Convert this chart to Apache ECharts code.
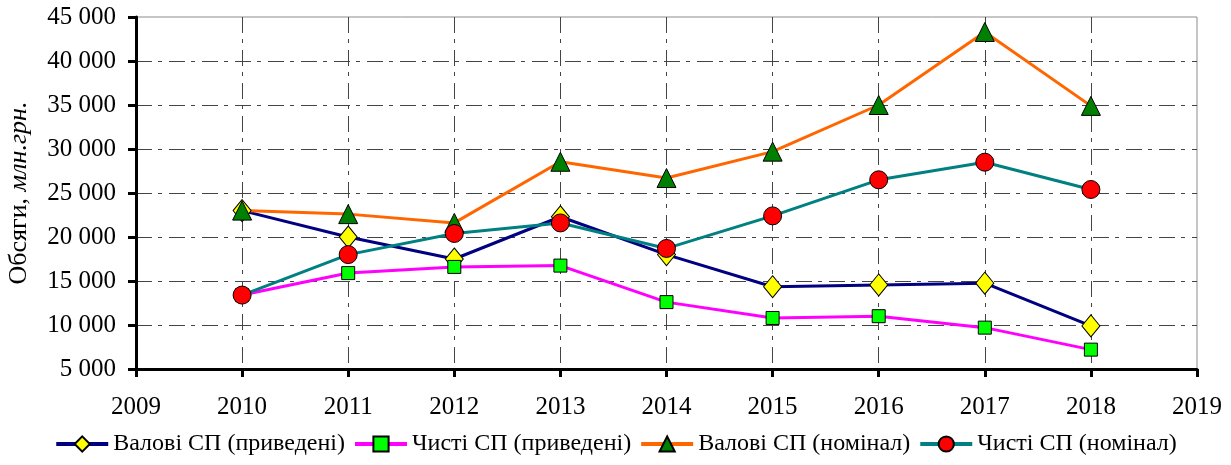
<!DOCTYPE html>
<html>
<head>
<meta charset="utf-8">
<script src="https://cdn.jsdelivr.net/npm/echarts@6/dist/echarts.min.js"></script>
<style>
  html, body { margin: 0; padding: 0; background: #fff; }
  #chart { width: 1231px; height: 465px; }
</style>
</head>
<body>
<div id="chart"></div>
<script>
var years = [2010, 2011, 2012, 2013, 2014, 2015, 2016, 2017, 2018];
var grossReal = [23000, 20000, 17500, 22300, 18000, 14350, 14550, 14750, 9900];
var netReal = [13400, 15900, 16600, 16750, 12600, 10800, 11000, 9700, 7200];
var grossNom = [23000, 22600, 21600, 28550, 26700, 29700, 35000, 43300, 34900];
var netNom = [13400, 18000, 20400, 21600, 18700, 22400, 26500, 28500, 25400];
var names = ['Валові СП (приведені)', 'Чисті СП (приведені)', 'Валові СП (номінал)', 'Чисті СП (номінал)'];

function pairs(vals) {
    var out = [];
    for (var i = 0; i < years.length; i++) out.push([years[i], vals[i]]);
    return out;
}

var font = 'Liberation Serif';
var dashDot = [16, 6, 4, 7];

function makeSeries(name, vals, lineColor, symbol, size, fill) {
    return {
        name: name,
        type: 'line',
        data: pairs(vals),
        symbol: symbol,
        symbolSize: size,
        showAllSymbol: true,
        lineStyle: { color: lineColor, width: 3 },
        itemStyle: { color: fill, borderColor: '#000', borderWidth: 1 },
        emphasis: { disabled: true },
        animation: false
    };
}

var myChart = echarts.init(document.getElementById('chart'));
var option = {
    backgroundColor: '#fff',
    textStyle: { fontFamily: font },
    grid: {
        left: 136, right: 34, top: 17, bottom: 96,
        containLabel: false,
        outerBoundsMode: 'none',
        show: true, borderColor: '#8c8c8c', borderWidth: 1
    },
    legend: {
        bottom: 4,
        left: 'center',
        itemWidth: 52,
        itemHeight: 19,
        itemGap: 8,
        lineStyle: { width: 4 },
        textStyle: { fontFamily: font, fontSize: 24, color: '#000' },
        data: names
    },
    xAxis: {
        type: 'value',
        min: 2009, max: 2019, interval: 1,
        axisLine: { lineStyle: { color: '#000', width: 3 } },
        axisTick: { length: 8, lineStyle: { color: '#000', width: 3 } },
        axisLabel: { fontFamily: font, fontSize: 25, color: '#000', margin: 26, formatter: function (v) { return String(v); } },
        splitLine: { show: true, showMinLine: false, showMaxLine: false, lineStyle: { color: '#444', width: 1, type: dashDot } }
    },
    yAxis: {
        type: 'value',
        min: 5000, max: 45000, interval: 5000,
        name: '{a|Обсяги, }{b|млн.грн.}',
        nameLocation: 'middle',
        nameGap: 104,
        nameTextStyle: {
            rich: {
                a: { fontFamily: font, fontSize: 26, color: '#000' },
                b: { fontFamily: font, fontSize: 26, fontStyle: 'italic', color: '#000' }
            }
        },
        axisLine: { show: true, lineStyle: { color: '#000', width: 3 } },
        axisTick: { show: true, length: 8, lineStyle: { color: '#000', width: 3 } },
        axisLabel: {
            fontFamily: font, fontSize: 25, color: '#000', margin: 20,
            formatter: function (v) { return String(v).replace(/\B(?=(\d{3})+(?!\d))/g, ' '); }
        },
        splitLine: { show: true, showMinLine: false, showMaxLine: false, lineStyle: { color: '#444', width: 1, type: dashDot } }
    },
    series: [
        makeSeries(names[0], grossReal, '#000080', 'diamond', [18, 22], '#ffff00'),
        makeSeries(names[1], netReal, '#ff00ff', 'rect', 13, '#00ff00'),
        makeSeries(names[2], grossNom, '#ff6600', 'triangle', 19, '#008000'),
        makeSeries(names[3], netNom, '#008080', 'circle', 18, '#ff0000')
    ]
};
myChart.setOption(option);
</script>
</body>
</html>
